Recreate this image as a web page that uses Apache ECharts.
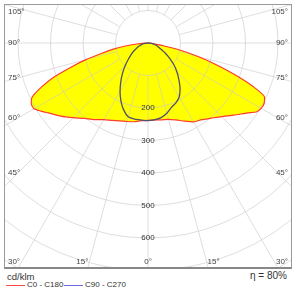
<!DOCTYPE html>
<html>
<head>
<meta charset="utf-8">
<script src="https://cdn.jsdelivr.net/npm/echarts@6/dist/echarts.min.js"></script>
<style>
  body { margin: 0; width: 295px; height: 296px; background: #fff; position: relative; font-family: "Liberation Sans", Arial, sans-serif; }
  #frame { position: absolute; left: 4px; top: 4px; width: 286px; height: 262px; border: 1px solid #9a9a9a; border-bottom: 2px solid #888; }
  #chart { position: absolute; left: 0; top: 0; width: 286px; height: 262px; }
  .txt { position: absolute; color: #333; white-space: nowrap; }
  .sw { position: absolute; height: 0; border-top: 1.5px solid; }
</style>
</head>
<body>
<div id="frame"><div id="chart"></div></div>
<div class="txt" style="left:7px; top:271px; font-size:9.5px;">cd/klm</div>
<div class="sw" style="left:6px; top:285px; width:19px; border-color:#ff4a4a;"></div>
<div class="txt" style="left:27px; top:280px; font-size:8px;">C0 - C180</div>
<div class="sw" style="left:64px; top:285px; width:19px; border-color:#6a6ae0;"></div>
<div class="txt" style="left:85px; top:280px; font-size:8px;">C90 - C270</div>
<div class="txt" style="right:8px; top:270px; font-size:10px;">η = 80%</div>
<script>
// gamma angles (0 = straight down), same for every half-plane
const angles = [0, 5, 10, 15, 20, 25, 30, 35, 40, 45, 50, 55, 57.5, 60, 62.5, 65, 67.5, 70, 72.5, 75, 77.5, 80, 82.5, 85, 87.5, 90];
// intensities in cd/klm
const c0   = [238, 238, 240, 243, 252, 265, 280, 288, 302, 320, 345, 375, 395, 402, 403, 396, 350, 282, 217, 157, 100, 48, 15, 3, 0, 0];
const c180 = [238, 240, 246, 250, 255, 263, 272, 288, 303, 325, 350, 375, 390, 405, 405, 393, 355, 310, 250, 198, 145, 108, 70, 35, 10, 0];
const c90  = [239, 237, 233, 224, 211, 203, 192, 172, 148, 126, 104, 80, 70, 60, 50, 42, 37, 33, 29, 25, 21, 16, 11, 6, 3, 0];
const c270 = [239, 238, 238, 235, 219, 197, 172, 146, 122, 100, 80, 64, 58, 52, 45, 39, 35, 30, 26, 22, 18, 13, 9, 5, 2, 0];
const radiusLabels = [200, 300, 400, 500, 600];
const angleLabels = [0, 15, 30, 45, 60, 75, 90, 105];

const cx = 143, cy = 38;          // centre of the diagram inside the frame
const rMax = 900, rPx = 292.5;    // 100 cd/klm = 32.5 px

// right half is taken as gamma, left half as 360 - gamma
function halves(right, left) {
  const pts = [];
  for (let i = 0; i < angles.length; i++) pts.push([right[i], angles[i]]);
  for (let i = angles.length - 1; i >= 0; i--) pts.push([left[i], 360 - angles[i]]);
  return pts;
}
const curveA = halves(c0, c180);
const curveB = halves(c90, c270);

// angle labels sit near the frame edge
const W = 286;
const labels = [];
angleLabels.forEach(a => {
  const rad = a * Math.PI / 180;
  if (a >= 45) {
    const y = Math.max(cy + 130 * Math.cos(rad) / Math.sin(rad), 7);
    labels.push({ x: 3, y: y, align: 'left', t: a + '°' });
    labels.push({ x: W - 3, y: y, align: 'right', t: a + '°' });
  } else {
    const dx = Math.max(0, Math.min(245 * Math.tan(rad), cx - 9));
    labels.push({ x: cx - dx, y: 257, align: 'center', t: a + '°' });
    if (a > 0) labels.push({ x: cx + dx, y: 257, align: 'center', t: a + '°' });
  }
});

const chart = echarts.init(document.getElementById('chart'));
const gridColor = 'rgba(200,200,200,0.6)';
chart.setOption({
  animation: false,
  polar: [
    { center: [cx, cy], radius: rPx },
    { center: [cx, cy], radius: [rPx / 9, rPx] }   // rays start at the 100 ring
  ],
  angleAxis: [
    {
      polarIndex: 0, type: 'value', min: 0, max: 360, startAngle: -90, clockwise: false,
      axisLine: { show: false }, axisTick: { show: false }, axisLabel: { show: false }, splitLine: { show: false }
    },
    {
      polarIndex: 1, type: 'value', min: 0, max: 360, interval: 15,
      startAngle: -90, clockwise: false, z: 2,
      axisLine: { show: false }, axisTick: { show: false }, axisLabel: { show: false },
      splitLine: { show: true, lineStyle: { color: gridColor, width: 1 } }
    }
  ],
  radiusAxis: [
    {
      polarIndex: 0, type: 'value', min: 0, max: rMax, interval: 100, z: 2,
      axisLine: { show: false }, axisTick: { show: false },
      axisLabel: {
        margin: 0, align: 'center', verticalAlign: 'middle',
        color: '#333', fontSize: 8, fontFamily: 'Liberation Sans',
        formatter: v => radiusLabels.indexOf(v) >= 0 ? String(v) : ''
      },
      splitLine: { show: true, lineStyle: { color: gridColor, width: 1 } }
    },
    {
      polarIndex: 1, type: 'value', min: 0, max: rMax,
      axisLine: { show: false }, axisTick: { show: false }, axisLabel: { show: false }, splitLine: { show: false }
    }
  ],
  graphic: labels.map(l => ({
    type: 'text', x: l.x, y: l.y, z: 10,
    style: { text: l.t, fill: '#444', font: '8px "Liberation Sans"', align: l.align, verticalAlign: 'middle' }
  })),
  series: [
    {
      type: 'line', coordinateSystem: 'polar', polarIndex: 0, data: curveA, z: 1,
      showSymbol: false, smooth: 0.2, lineStyle: { width: 0 },
      areaStyle: { color: '#ffff00', opacity: 1 }
    },
    {
      name: 'C0 - C180', type: 'line', coordinateSystem: 'polar', polarIndex: 0, data: curveA, z: 3,
      showSymbol: false, smooth: 0.2, lineStyle: { color: '#ff3b2b', width: 1.2 }
    },
    {
      name: 'C90 - C270', type: 'line', coordinateSystem: 'polar', polarIndex: 0, data: curveB, z: 4,
      showSymbol: false, smooth: 0.2, lineStyle: { color: '#50506a', width: 1.3 }
    }
  ]
});
</script>
</body>
</html>
